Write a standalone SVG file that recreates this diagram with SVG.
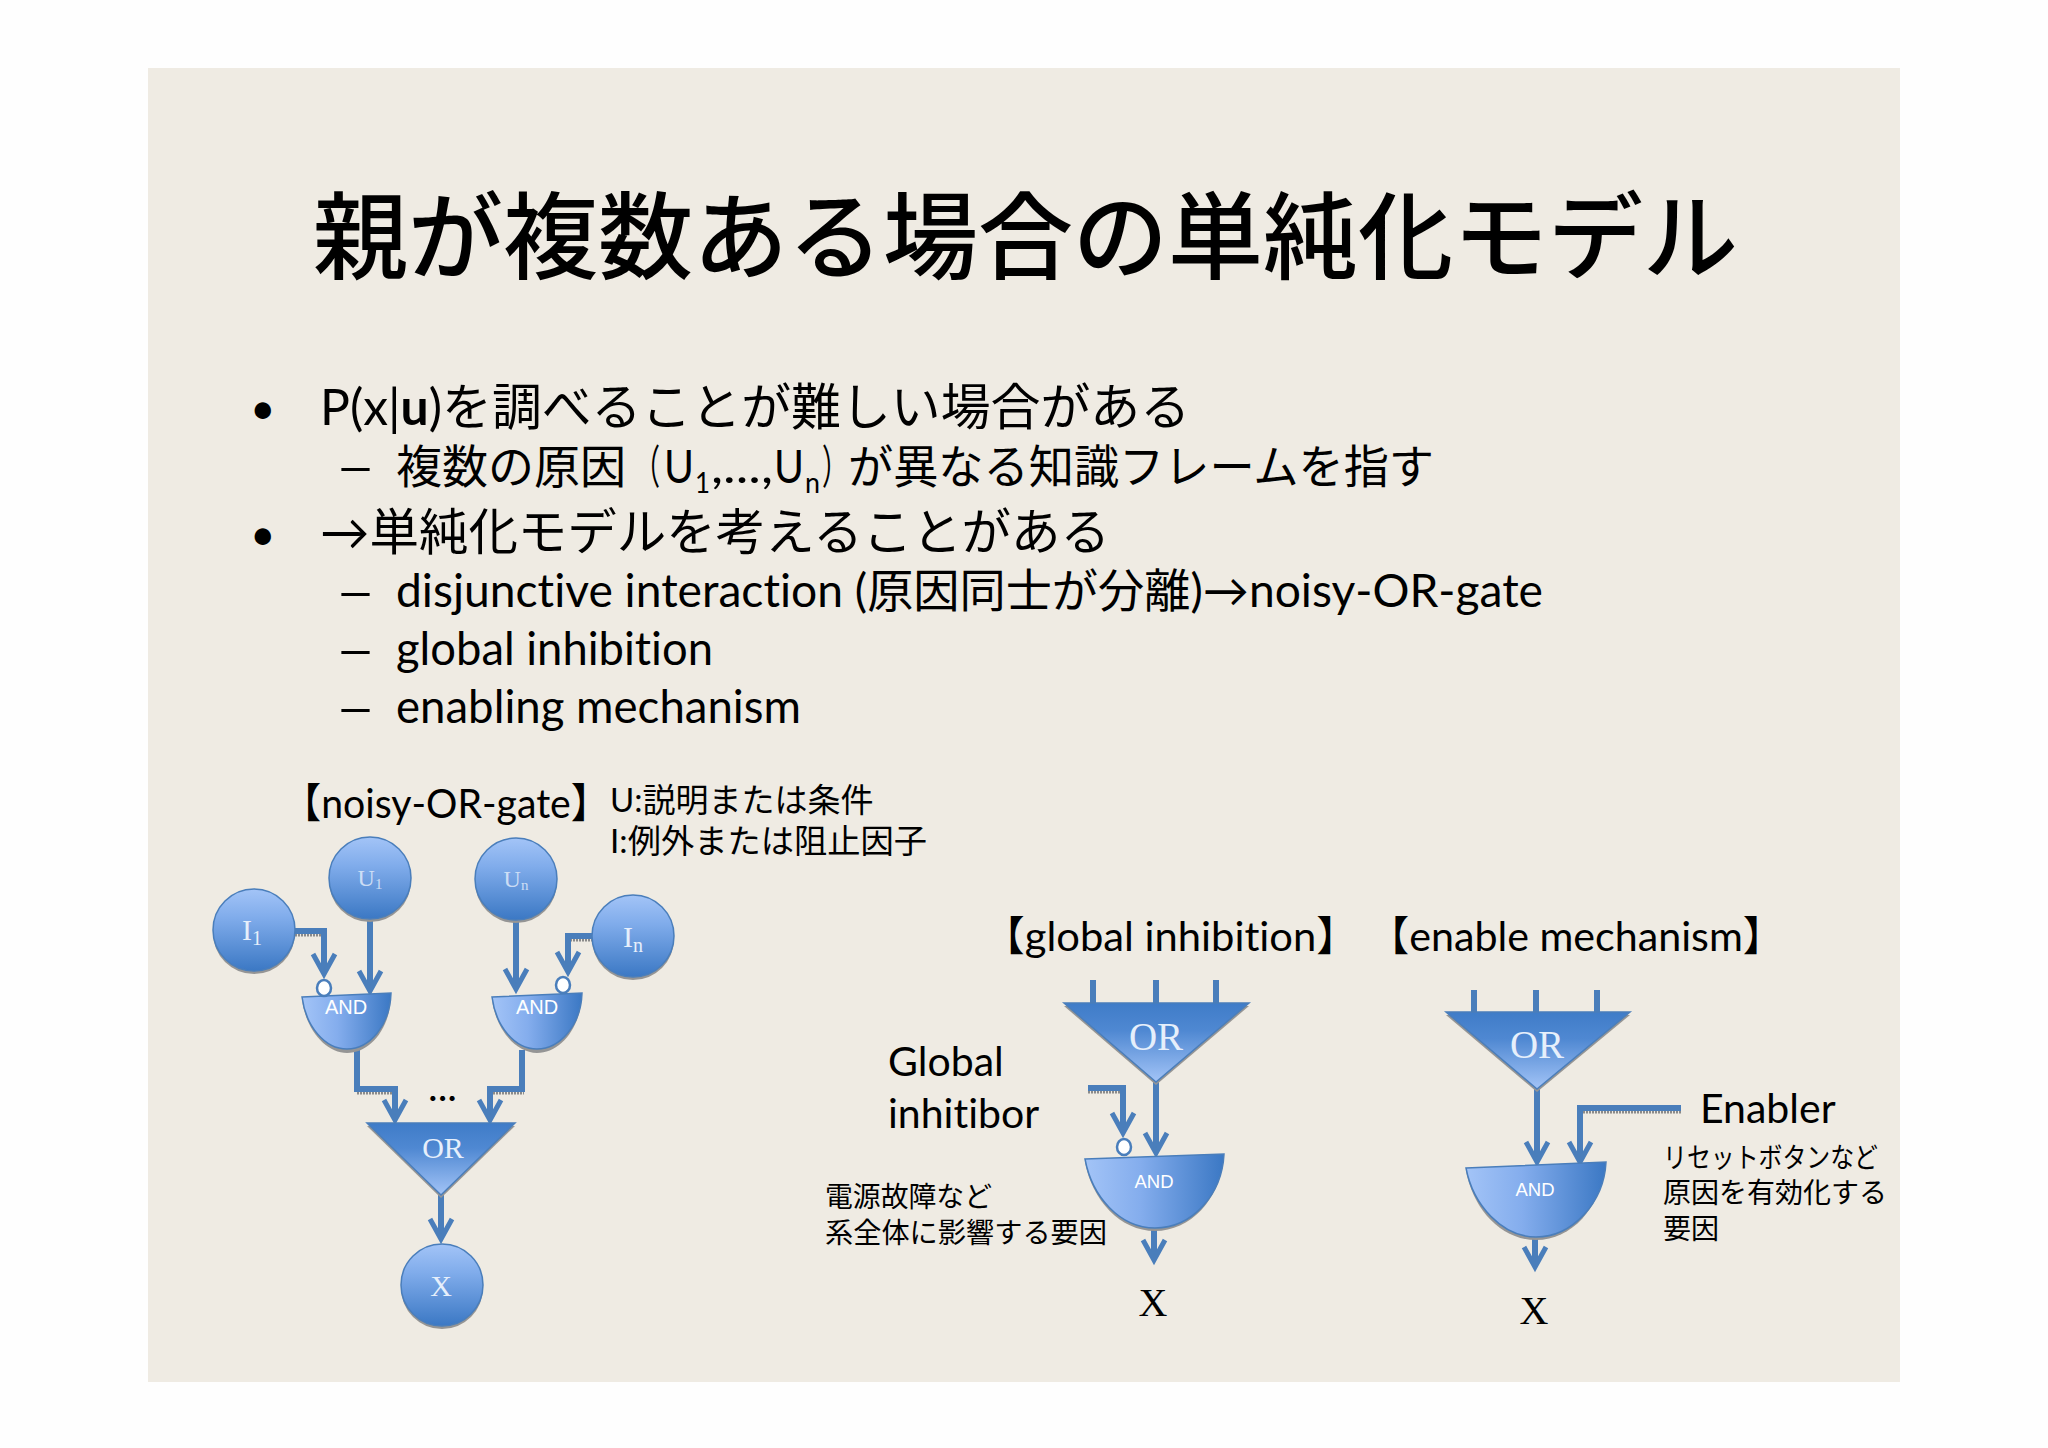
<svg xmlns="http://www.w3.org/2000/svg" width="2048" height="1448" viewBox="0 0 2048 1448">
<style>
text{font-family:"Lato","Noto Sans CJK JP",sans-serif;fill:#000;font-variant-ligatures:none}
.t{font-size:95px;font-family:"Noto Sans CJK JP",sans-serif;font-weight:500}
.b{font-size:50px}.s{font-size:46px}.u{font-size:28px}.bu{font-size:44px}
.h{font-size:41px}.n{font-size:33px}.m{font-size:28px}
.c{font-family:"Liberation Serif",serif;fill:#e6effb;text-anchor:middle}
.a{font-family:"Liberation Sans",sans-serif;fill:#fff;text-anchor:middle}
.x{font-family:"Liberation Serif",serif;font-size:40px;text-anchor:middle}
.l{fill:none;stroke:#4a7ebb;stroke-width:6;marker-end:url(#ah)}
.p{fill:none;stroke:#4a7ebb;stroke-width:6}
.hs{fill:none;stroke:#8a8a8a;stroke-width:3;stroke-dasharray:2 1}
.sh{fill:#959595}
.o{stroke:#4a7ebb;stroke-width:1.5}
.neg{fill:#fff;stroke:#4a7ebb;stroke-width:2.5}
</style>
<defs>
<linearGradient id="gv" x1="0" y1="0" x2="0" y2="1"><stop offset="0" stop-color="#a3c4f7"/><stop offset="0.35" stop-color="#80aceb"/><stop offset="1" stop-color="#3b78c4"/></linearGradient>
<linearGradient id="gu" x1="0" y1="0" x2="0" y2="1"><stop offset="0" stop-color="#3f7cc8"/><stop offset="0.35" stop-color="#4f88d2"/><stop offset="1" stop-color="#a3c4f7"/></linearGradient>
<linearGradient id="gh" x1="0" y1="0" x2="1" y2="0"><stop offset="0" stop-color="#a3c4f7"/><stop offset="0.4" stop-color="#84aded"/><stop offset="1" stop-color="#3b78c4"/></linearGradient>
<marker id="ah" markerUnits="userSpaceOnUse" markerWidth="34" markerHeight="34" refX="19" refY="13" orient="auto" overflow="visible"><path d="M2 2L22 13L2 24" fill="none" stroke="#4a7ebb" stroke-width="5"/></marker>
</defs>
<rect width="2048" height="1448" fill="#fefefe"/>
<rect x="148" y="68" width="1752" height="1314" fill="#efebe3"/>
<g id="title"><text class="t" x="313" y="272">親が複数ある場合の単純化モデル</text></g>
<g id="body">
<text class="bu" x="250" y="424">•</text><text class="b" x="320" y="425" textLength="870" lengthAdjust="spacingAndGlyphs">P(x|<tspan font-weight="700">u</tspan>)を調べることが難しい場合がある</text>
<text class="s" x="335" y="483" textLength="41" lengthAdjust="spacingAndGlyphs">–</text>
<text class="s" x="396" y="483">複数の原因</text>
<text class="s" x="634" y="483" textLength="26" lengthAdjust="spacingAndGlyphs">（</text>
<text class="s" x="664" y="483" textLength="30" lengthAdjust="spacingAndGlyphs">U</text>
<text class="u" x="695" y="493" textLength="15" lengthAdjust="spacingAndGlyphs">1</text>
<text class="s" x="711" y="483" textLength="62" lengthAdjust="spacingAndGlyphs">,...,</text>
<text class="s" x="774" y="483" textLength="30" lengthAdjust="spacingAndGlyphs">U</text>
<text class="u" x="805" y="493" textLength="15" lengthAdjust="spacingAndGlyphs">n</text>
<text class="s" x="822" y="483" textLength="26" lengthAdjust="spacingAndGlyphs">）</text>
<text class="s" x="848" y="483" textLength="586" lengthAdjust="spacingAndGlyphs">が異なる知識フレームを指す</text>
<text class="bu" x="250" y="550">•</text><text class="b" x="320" y="550" textLength="790" lengthAdjust="spacingAndGlyphs">→単純化モデルを考えることがある</text>
<text class="s" x="335" y="608" textLength="41" lengthAdjust="spacingAndGlyphs">–</text><text class="s" x="396" y="607" textLength="1147" lengthAdjust="spacingAndGlyphs">disjunctive interaction (原因同士が分離)→noisy-OR-gate</text>
<text class="s" x="335" y="666" textLength="41" lengthAdjust="spacingAndGlyphs">–</text><text class="s" x="396" y="665" textLength="317" lengthAdjust="spacingAndGlyphs">global inhibition</text>
<text class="s" x="335" y="724" textLength="41" lengthAdjust="spacingAndGlyphs">–</text><text class="s" x="396" y="723" textLength="405" lengthAdjust="spacingAndGlyphs">enabling mechanism</text>
</g>
<g id="labels">
<text class="h" x="282" y="818" textLength="328" lengthAdjust="spacingAndGlyphs">【noisy-OR-gate】</text>
<text class="n" x="610" y="812">U:説明または条件</text>
<text class="n" x="610" y="853" textLength="317" lengthAdjust="spacingAndGlyphs">I:例外または阻止因子</text>
<text class="h" x="983" y="951" textLength="375" lengthAdjust="spacingAndGlyphs">【global inhibition】</text>
<text class="h" x="1368" y="951" textLength="416" lengthAdjust="spacingAndGlyphs">【enable mechanism】</text>
<text class="h" x="888" y="1076">Global</text>
<text class="h" x="888" y="1128">inhitibor</text>
<text class="m" x="825" y="1207" textLength="167" lengthAdjust="spacingAndGlyphs">電源故障など</text>
<text class="m" x="825" y="1243" textLength="282" lengthAdjust="spacingAndGlyphs">系全体に影響する要因</text>
<text class="h" x="1700" y="1123">Enabler</text>
<text class="m" x="1663" y="1168" textLength="215" lengthAdjust="spacingAndGlyphs">リセットボタンなど</text>
<text class="m" x="1663" y="1203">原因を有効化する</text>
<text class="m" x="1663" y="1239">要因</text>
<text class="h" x="428" y="1101">...</text>
</g>
<g id="connectors">
<path class="hs" d="M295 935H326M357 1093H398M490 1093H524M570 940H593M1088 1092H1126M1580 1112H1681"/>
<path class="l" d="M295 931H324V971"/>
<path class="l" d="M370 920V988"/>
<path class="l" d="M516 920V986"/>
<path class="l" d="M593 936H568V969"/>
<path class="l" d="M357 1050V1089H395V1117"/>
<path class="l" d="M522 1050V1089H490V1117"/>
<path class="l" d="M441 1195V1236"/>
<path class="p" d="M1093 980V1004M1156 980V1004M1216 980V1004"/>
<path class="l" d="M1088 1088H1123V1130"/>
<path class="l" d="M1156 1082V1150"/>
<path class="l" d="M1154 1228V1257"/>
<path class="p" d="M1474 990V1013M1536 990V1013M1597 990V1013"/>
<path class="l" d="M1537 1089V1159"/>
<path class="l" d="M1681 1108H1580V1159"/>
<path class="l" d="M1535 1237V1264"/>
</g>
<g id="I1"><ellipse class="sh" cx="254" cy="933" rx="41" ry="41"/><ellipse class="o" cx="254" cy="930" rx="41" ry="41" fill="url(#gv)"/><text class="c" x="252" y="940" font-size="30">I<tspan font-size="20" dy="5">1</tspan></text></g>
<g id="U1"><ellipse class="sh" cx="370" cy="881" rx="41" ry="41"/><ellipse class="o" cx="370" cy="878" rx="41" ry="41" fill="url(#gv)"/><text class="c" x="370" y="886" font-size="24" fill-opacity=".8">U<tspan font-size="15" dy="3">1</tspan></text></g>
<g id="Un"><ellipse class="sh" cx="516" cy="882" rx="41" ry="41"/><ellipse class="o" cx="516" cy="879" rx="41" ry="41" fill="url(#gv)"/><text class="c" x="516" y="887" font-size="24" fill-opacity=".8">U<tspan font-size="15" dy="3">n</tspan></text></g>
<g id="In"><ellipse class="sh" cx="633" cy="939" rx="41" ry="41"/><ellipse class="o" cx="633" cy="936" rx="41" ry="41" fill="url(#gv)"/><text class="c" x="633" y="947" font-size="30">I<tspan font-size="20" dy="5">n</tspan></text></g>
<g id="X1"><ellipse class="sh" cx="442" cy="1288" rx="41" ry="41"/><ellipse class="o" cx="442" cy="1285" rx="41" ry="41" fill="url(#gv)"/><text class="c" x="441" y="1296" font-size="30">X</text></g>
<g id="AND1"><path class="sh" d="M302 1000C306 1030 326 1053 347 1053C369 1053 390 1030 391 996Z"/><path class="o" d="M302 997L391 993C390 1025 370 1049 347 1049C325 1049 306 1027 302 997Z" fill="url(#gh)"/><text class="a" x="346" y="1014" font-size="20">AND</text><ellipse class="neg" cx="324" cy="988" rx="7" ry="8"/></g>
<g id="AND2"><path class="sh" d="M492 1000C496 1030 516 1053 537 1053C559 1053 580 1030 582 996Z"/><path class="o" d="M492 997L582 993C581 1025 560 1049 537 1049C515 1049 496 1027 492 997Z" fill="url(#gh)"/><text class="a" x="537" y="1014" font-size="20">AND</text><ellipse class="neg" cx="563" cy="985" rx="7" ry="8"/></g>
<g id="OR1"><path class="sh" d="M367 1126H515L441 1198Z"/><path class="o" d="M367 1123H515L441 1195Z" fill="url(#gu)"/><text class="c" x="443" y="1158" font-size="30">OR</text></g>
<g id="OR2"><path class="sh" d="M1064 1006H1249L1156 1085Z"/><path class="o" d="M1064 1003H1249L1156 1082Z" fill="url(#gu)"/><text class="c" x="1156" y="1050" font-size="39">OR</text></g>
<g id="AND3"><path class="sh" d="M1085 1162C1092 1200 1120 1231 1155 1231C1190 1231 1220 1200 1224 1157Z"/><path class="o" d="M1085 1159L1224 1154C1222 1195 1192 1228 1155 1228C1120 1228 1092 1197 1085 1159Z" fill="url(#gh)"/><text class="a" x="1154" y="1188" font-size="18.5">AND</text><ellipse class="neg" cx="1124" cy="1147" rx="7" ry="8"/></g>
<g id="X2"><text class="x" x="1153" y="1316">X</text></g>
<g id="OR3"><path class="sh" d="M1446 1015H1630L1537 1092Z"/><path class="o" d="M1446 1012H1630L1537 1089Z" fill="url(#gu)"/><text class="c" x="1537" y="1058" font-size="39">OR</text></g>
<g id="AND4"><path class="sh" d="M1466 1171C1473 1208 1500 1240 1536 1240C1572 1240 1600 1208 1606 1165Z"/><path class="o" d="M1466 1168L1606 1162C1604 1203 1572 1237 1536 1237C1502 1237 1473 1205 1466 1168Z" fill="url(#gh)"/><text class="a" x="1535" y="1196" font-size="18.5">AND</text></g>
<g id="X3"><text class="x" x="1534" y="1324">X</text></g>
</svg>
